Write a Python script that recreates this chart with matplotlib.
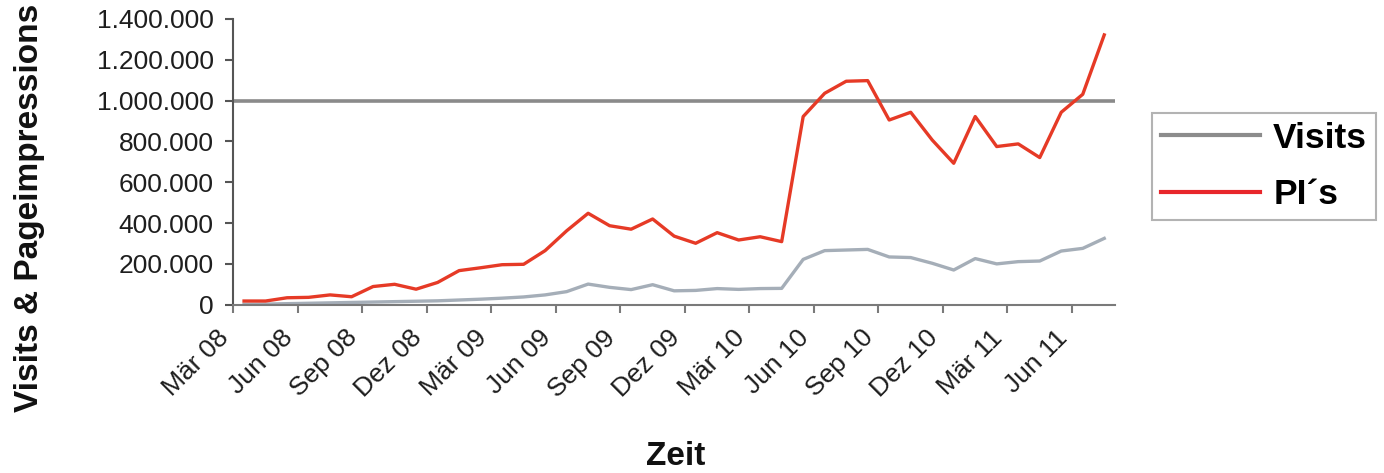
import matplotlib
matplotlib.use("Agg")
import matplotlib.pyplot as plt
from matplotlib.ticker import FuncFormatter
from matplotlib.lines import Line2D

plt.rcParams['font.family'] = ['Liberation Sans', 'DejaVu Sans']

months = ["Jan", "Feb", "Mär", "Apr", "Mai", "Jun", "Jul", "Aug", "Sep", "Okt", "Nov", "Dez"]
categories = []
for yr in range(8, 12):
    for m in months:
        categories.append(f"{m} {yr:02d}")
categories = categories[2:2 + 41]  # Mär 08 .. Jul 11

pis = [18000, 18000, 34000, 36000, 48000, 39000, 89000, 100000, 76000, 109000,
       167000, 181000, 196000, 198000, 265000, 362000, 448000, 387000, 370000, 420000,
       336000, 301000, 353000, 317000, 333000, 309000, 922000, 1036000, 1095000, 1098000,
       905000, 943000, 807000, 693000, 922000, 775000, 788000, 721000, 943000, 1031000,
       1322000]
visits = [2000, 3000, 5000, 7000, 9000, 11000, 13000, 15000, 17000, 19000,
          23000, 27000, 32000, 38000, 48000, 64000, 101000, 85000, 74000, 98000,
          68000, 70000, 79000, 75000, 79000, 80000, 222000, 265000, 268000, 271000,
          234000, 231000, 203000, 170000, 226000, 200000, 211000, 214000, 263000, 276000,
          325000]
yticks = [0, 200000, 400000, 600000, 800000, 1000000, 1200000, 1400000]
reference_line = 1000000

W, H = 1384, 473
fig = plt.figure(figsize=(W / 100, H / 100), dpi=100)
ax = fig.add_axes([233.3 / W, 1 - 304.7 / H, (1115 - 233.3) / W, (304.7 - 19) / H])

x = list(range(len(categories)))
ax.axhline(reference_line, color='#8a8a8a', lw=2.6, zorder=1)
ax.plot(x, visits, color='#a5aeb8', lw=2.4, zorder=2, solid_joinstyle='round')
ax.plot(x, pis, color='#e63a26', lw=2.4, zorder=3, solid_joinstyle='round')

ax.set_xlim(-0.5, len(categories) - 0.5)
ax.set_ylim(0, 1400000)
ax.set_yticks(yticks)
ax.yaxis.set_major_formatter(FuncFormatter(lambda v, p: f"{int(v):,}".replace(",", ".")))

tick_idx = list(range(0, len(categories), 3))
ax.set_xticks([i - 0.5 for i in tick_idx])
ax.set_xticklabels([categories[i] for i in tick_idx], rotation=45, ha='right',
                   rotation_mode='default')

for s in ['top', 'right']:
    ax.spines[s].set_visible(False)
ax.spines['left'].set_color('#555555')
ax.spines['left'].set_linewidth(1.5)
ax.spines['bottom'].set_color('#7a7a7a')
ax.spines['bottom'].set_linewidth(1.5)
ax.tick_params(axis='y', direction='out', length=6, width=1.5, color='#555555',
               labelsize=19, labelcolor='#1e1e1e', pad=8)
ax.tick_params(axis='x', direction='out', length=6, width=1.5, color='#7a7a7a',
               labelsize=19, labelcolor='#1e1e1e', pad=9)

fig.text(30 / W, 1 - 208 / H, "Visits & Pageimpressions", rotation=90, ha='center',
         va='center', fontsize=24, fontweight='bold', color='#111111')
fig.text(676 / W, 1 - 456 / H, "Zeit", ha='center', va='center', fontsize=24,
         fontweight='bold', color='#111111')

handles = [Line2D([], [], color='#8c8c8c', lw=3), Line2D([], [], color='#e8262b', lw=3)]
leg = fig.legend(handles, ["Visits", "PI´s"], loc='upper left',
                 bbox_to_anchor=(1151.7 / W, 1 - 112.7 / H), bbox_transform=fig.transFigure,
                 borderaxespad=0, frameon=True, fancybox=False, handlelength=2.8,
                 handletextpad=0.38, borderpad=0.25, labelspacing=0.66,
                 prop={'size': 25.5, 'weight': 'bold'})
leg.get_frame().set_edgecolor('#a0a0a0')
leg.get_frame().set_linewidth(1.5)

fig.savefig("out.png", dpi=100)
